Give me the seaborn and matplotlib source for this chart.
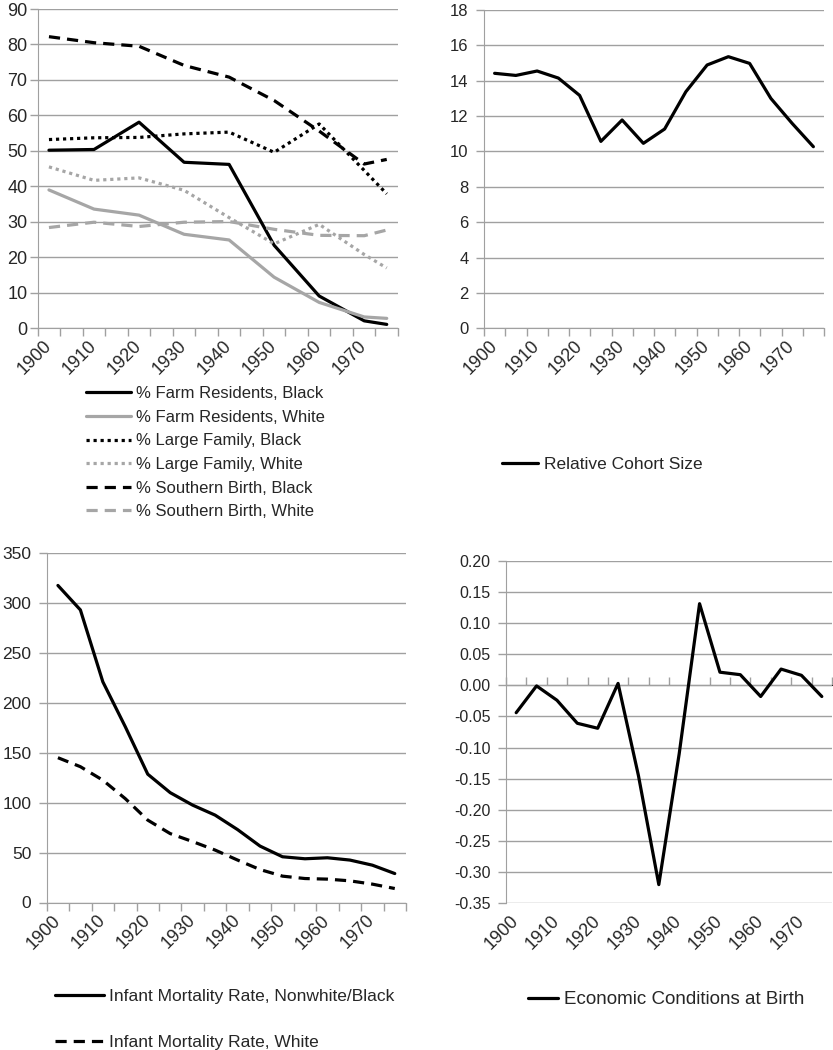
import numpy as np
import matplotlib
matplotlib.use("Agg")
import matplotlib.pyplot as plt
from matplotlib.ticker import FixedLocator, FormatStrFormatter, MultipleLocator
import seaborn as sns

# Dane - panel A (co 10 lat + 1975)
lata_a = [1900, 1910, 1920, 1930, 1940, 1950, 1960, 1970, 1975]
farma_czarni = [50.2, 50.4, 58.1, 46.8, 46.2, 23.4, 9.1, 2.1, 1.1]
farma_biali = [39.0, 33.6, 31.9, 26.5, 24.9, 14.4, 7.3, 3.2, 2.8]
duza_rodzina_czarni = [53.2, 53.7, 53.8, 54.8, 55.3, 49.6, 57.6, 44.5, 37.9]
duza_rodzina_biali = [45.5, 41.7, 42.4, 38.9, 31.2, 23.8, 29.3, 20.8, 17.0]
poludnie_czarni = [82.2, 80.5, 79.5, 74.1, 70.8, 64.2, 55.6, 46.3, 47.6]
poludnie_biali = [28.4, 29.9, 28.7, 29.9, 30.1, 27.9, 26.2, 26.1, 27.7]

# Dane - panele B, C, D (co 5 lat)
lata_b = [1900, 1905, 1910, 1915, 1920, 1925, 1930, 1935,
          1940, 1945, 1950, 1955, 1960, 1965, 1970, 1975]
kohorta = [14.42, 14.3, 14.55, 14.15, 13.17, 10.57, 11.78, 10.46,
           11.27, 13.38, 14.89, 15.36, 14.98, 13.0, 11.59, 10.27]
umieralnosc_czarni = [317.5, 293, 221, 176, 128.5, 110, 97.5, 87.5,
                      73, 56.5, 45.8, 43.8, 44.8, 42.5, 37.4, 29]
umieralnosc_biali = [145, 136, 122.5, 104, 82.5, 69, 61, 52.5,
                     42.5, 33, 26.4, 24, 23.4, 21.7, 18.4, 14]
warunki_ekonomiczne = [-0.044, -0.001, -0.024, -0.061, -0.069, 0.003, -0.145, -0.32,
                       -0.11, 0.131, 0.021, 0.017, -0.018, 0.026, 0.016, -0.018]

etykiety_lat = [1900, 1910, 1920, 1930, 1940, 1950, 1960, 1970]
granice = np.arange(1897.5, 1978, 5)

sns.set_style("white")
plt.rcParams['font.family'] = ['Liberation Sans', 'DejaVu Sans']
plt.rcParams['axes.unicode_minus'] = False

CZARNY = '#000000'
SZARY = '#a6a6a6'
SIATKA = '#a0a0a0'
LW = 2.3
KROPKI = (0, (1, 1.2))
KRESKI = (0, (3.5, 2.2))

W, H = 833, 1050
fig = plt.figure(figsize=(W / 100, H / 100), dpi=100)


def dodaj_os(lewo, prawo, gora, dol):
    return fig.add_axes([lewo / W, 1 - dol / H, (prawo - lewo) / W, (dol - gora) / H])


def styl_osi(ax, ymin, ymax, krok, fmt, pad_y=5, tick_font=11, os_x=True):
    ax.set_xlim(1897.5, 1977.5)
    ax.set_ylim(ymin, ymax)
    ax.yaxis.set_major_locator(MultipleLocator(krok))
    ax.yaxis.set_major_formatter(FormatStrFormatter(fmt))
    ax.grid(axis='y', color=SIATKA, lw=1)
    ax.grid(axis='x', visible=False)
    for s in ['top', 'right']:
        ax.spines[s].set_visible(False)
    ax.spines['left'].set_color(SIATKA)
    ax.spines['bottom'].set_color(SIATKA)
    ax.tick_params(axis='y', left=True, length=6, width=1, color=SIATKA,
                   pad=pad_y, labelsize=tick_font)
    ax.xaxis.set_major_locator(FixedLocator(etykiety_lat))
    ax.tick_params(axis='x', which='major', length=0, labelsize=13, pad=11)
    if os_x:
        ax.xaxis.set_minor_locator(FixedLocator(granice))
        ax.tick_params(axis='x', which='minor', bottom=True, length=6,
                       width=1, color=SIATKA)
    for t in ax.get_xticklabels():
        t.set_rotation(45)
        t.set_ha('right')
        t.set_va('center')
        t.set_rotation_mode('anchor')
    ax.set_xlabel('')
    ax.set_ylabel('')


def legenda(ax, x, y, **kw):
    opcje = dict(loc='upper left', bbox_to_anchor=(x / W, 1 - y / H),
                 bbox_transform=fig.transFigure, frameon=False, borderpad=0,
                 borderaxespad=0, handletextpad=0.3, fontsize=12.5)
    opcje.update(kw)
    ax.legend(**opcje)


# Panel A
ax1 = dodaj_os(37.7, 398, 9, 328.3)
serie_a = [
    (farma_czarni, '% Farm Residents, Black', CZARNY, '-'),
    (farma_biali, '% Farm Residents, White', SZARY, '-'),
    (duza_rodzina_czarni, '% Large Family, Black', CZARNY, KROPKI),
    (duza_rodzina_biali, '% Large Family, White', SZARY, KROPKI),
    (poludnie_czarni, '% Southern Birth, Black', CZARNY, KRESKI),
    (poludnie_biali, '% Southern Birth, White', SZARY, KRESKI),
]
for wart, nazwa, kolor, ls in serie_a:
    sns.lineplot(x=lata_a, y=wart, ax=ax1, color=kolor, linestyle=ls,
                 linewidth=LW, label=nazwa)
styl_osi(ax1, 0, 90, 10, '%d', pad_y=1.5, tick_font=13)
legenda(ax1, 86, 386, handlelength=2.7, labelspacing=0.52, fontsize=12)

# Panel B
ax2 = dodaj_os(484, 824, 10, 328.3)
sns.lineplot(x=lata_b, y=kohorta, ax=ax2, color=CZARNY, linewidth=LW,
             label='Relative Cohort Size')
styl_osi(ax2, 0, 18, 2, '%d', pad_y=5, tick_font=12)
legenda(ax2, 502, 457, handlelength=2.1)

# Panel C
ax3 = dodaj_os(46.7, 406, 553, 902.5)
sns.lineplot(x=lata_b, y=umieralnosc_czarni, ax=ax3, color=CZARNY, linewidth=LW,
             label='Infant Mortality Rate, Nonwhite/Black')
sns.lineplot(x=lata_b, y=umieralnosc_biali, ax=ax3, color=CZARNY, linewidth=LW,
             linestyle=KRESKI, label='Infant Mortality Rate, White')
styl_osi(ax3, 0, 350, 50, '%d', pad_y=5, tick_font=12.5)
legenda(ax3, 55, 989, handlelength=2.8, labelspacing=1.75)

# Panel D
ax4 = dodaj_os(506, 832, 560.7, 903.3)
sns.lineplot(x=lata_b, y=warunki_ekonomiczne, ax=ax4, color=CZARNY, linewidth=LW,
             label='Economic Conditions at Birth')
styl_osi(ax4, -0.35, 0.20, 0.05, '%.2f', pad_y=5, tick_font=11.5, os_x=False)
ax4.spines['bottom'].set_visible(False)
ax4.tick_params(axis='y', length=6)
# os pozioma przy zerze z podzialkami
zero = (0 - (-0.35)) / 0.55
os_zero = ax4.secondary_xaxis(zero)
os_zero.spines['bottom'].set_color(SIATKA)
os_zero.xaxis.set_major_locator(FixedLocator([]))
os_zero.xaxis.set_minor_locator(FixedLocator(granice))
os_zero.tick_params(axis='x', which='minor', length=6, width=1, color=SIATKA)
legenda(ax4, 528, 991, handlelength=1.6, fontsize=13.5)

fig.savefig('out.png', dpi=100)
